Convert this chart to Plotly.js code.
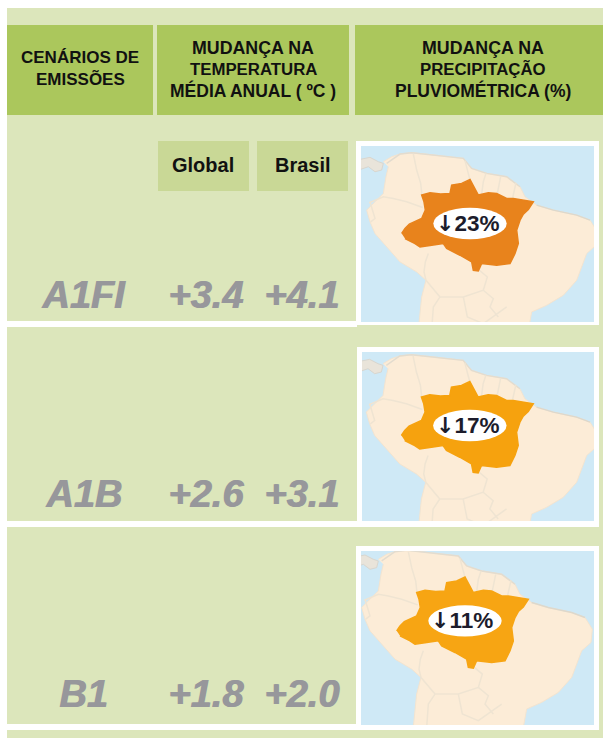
<!DOCTYPE html>
<html><head><meta charset="utf-8">
<script src="https://cdn.plot.ly/plotly-3.0.1.min.js"></script>
<style>html,body{margin:0;padding:0;background:#fff}#c{width:603px;height:738px}</style>
</head><body><div id="c"></div>
<script>
// ---- table content ----
const scenarios = ['A1FI','A1B','B1'];
const tempGlobal = ['+3.4','+2.6','+1.8'];
const tempBrasil = ['+4.1','+3.1','+2.0'];
const rainChange = ['23%','17%','11%'];
const regionColors = ['#e8831c','#f6a20e','#f7a513'];
const headerCol1 = ['CENÁRIOS DE','EMISSÕES'];
const headerCol2 = ['MUDANÇA NA','TEMPERATURA','MÉDIA ANUAL ( ºC )'];
const headerCol3 = ['MUDANÇA NA','PRECIPITAÇÃO','PLUVIOMÉTRICA (%)'];
const subHeaders = ['Global','Brasil'];

// ---- map outlines, in a shared map coordinate system ----
const landX = [100,125,150,185,225,280,340,365,410,470,510,525,560,610,680,720,742,738,710,695,680,640,590,545,535,205,215,228,200,150,110,75,60,50,75,100,108,115];
const landY = [95,80,72,68,72,78,85,115,130,140,170,200,225,240,255,270,305,345,370,410,450,495,525,545,600,600,500,450,425,395,350,310,275,240,215,190,140,110];
const centralX = [20,60,85,100,95,75,55,35,20];
const centralY = [90,82,95,100,120,125,110,118,122];
const regionX = [155,165,178,215,226,222,215,240,272,300,305,335,360,372,385,415,440,470,490,550,535,520,510,500,505,495,480,440,395,385,370,365,330,290,280,245,210,195,185,165];
const regionY = [310,295,282,265,240,215,195,188,192,190,165,160,148,170,195,188,190,205,205,215,238,252,270,300,340,370,400,405,400,422,420,395,375,355,340,345,350,340,335,325];
const borderSets = [
  [[190,200,212,216],[72,120,160,195]],
  [[58,100,130,170,218],[218,200,205,215,232]],
  [[360,352,345],[150,115,92]],
  [[395,400,408],[192,155,130]],
  [[442,446,452],[190,165,140]],
  [[488,492,498],[203,180,158]],
  [[228,222,226,235],[450,425,395,370]],
  [[228,270,340,400,412,388],[450,500,500,480,440,420]],
  [[270,250,245],[500,530,600]],
  [[340,352,400,470],[500,560,580,530]],
  [[400,430,420,445],[480,505,530,560]],
  [[60,75,62],[215,265,275]]
];
const coastX = [110,150,185,225,280,340,365,410,470,510];
const coastY = [100,72,68,72,78,85,115,130,140,170];
const coastEastX = [560,610,680,720];
const coastEastY = [225,240,255,270];

// ---- page geometry (pixels) ----
const pale='#dce6bb', head='#abc75c', sub='#c9d896', grey='#97979b';
const rect=(x0,y0,x1,y1,c)=>({type:'rect',xref:'x',yref:'y',x0,y0,x1,y1,fillcolor:c,line:{width:0},layer:'below'});
const shapes=[
  rect(7,8,603,738,pale),
  rect(7,25,153,115,head), rect(157,25,349,115,head), rect(355,25,603,115,head),
  rect(158,141,249,191,sub), rect(257,141,348,191,sub),
  rect(7,321,357,327,'#fff'), rect(7,521,357,527,'#fff'), rect(7,724,357,730,'#fff')
];
const frames=[[356,141,599,325],[357,347,599,527],[356,546,599,730]];
const images=[[361,146,594,322],[362,352,594,521],[361,551,594,725]];
const windows=[[33,732,48,575],[37,732,60,566],[48,747,70,593]];
const rowY=[295,494,694];
const W=603,H=738;
const layout={width:W,height:H,margin:{l:0,r:0,t:0,b:0},paper_bgcolor:'#fff',plot_bgcolor:'rgba(0,0,0,0)',showlegend:false,hovermode:false,
  xaxis:{range:[0,W],domain:[0,1],visible:false,fixedrange:true},
  yaxis:{range:[H,0],domain:[0,1],visible:false,fixedrange:true},
  shapes,annotations:[]};
const traces=[{type:'scatter',x:[0],y:[0],mode:'none',xaxis:'x',yaxis:'y'}];
const sans='"Liberation Sans",Arial,sans-serif';
const note=(text,x,y,size,color)=>({text,x,y,xref:'x',yref:'y',showarrow:false,xanchor:'center',yanchor:'middle',font:{family:sans,size,color}});
const heavy=(text,x,y)=>{const a=note('<b><i>'+text+'</i></b>',x,y,38,grey);a.font.shadow='1px 0 0 '+grey;return a;};
const headSizes=[17.8,16.8,17.5];

headerCol1.forEach((t,i)=>layout.annotations.push(note('<b>'+t+'</b>',80,[57,79][i],17,'#111')));
headerCol2.forEach((t,i)=>layout.annotations.push(note('<b>'+t+'</b>',253,[48,69,90][i],headSizes[i],'#111')));
headerCol3.forEach((t,i)=>layout.annotations.push(note('<b>'+t+'</b>',482.5,[48,69,90][i],headSizes[i],'#111')));
subHeaders.forEach((t,i)=>layout.annotations.push(note('<b>'+t+'</b>',[203,302.5][i],165,20,'#111')));
scenarios.forEach((s,i)=>{
  layout.annotations.push(heavy(s,83,rowY[i]));
  layout.annotations.push(heavy(tempGlobal[i],205.5,rowY[i]));
  layout.annotations.push(heavy(tempBrasil[i],301,rowY[i]));
  const f=frames[i], m=images[i], w=windows[i], n=i+2;
  shapes.push(rect(f[0],f[1],f[2],f[3],'#fff'));
  shapes.push(rect(m[0],m[1],m[2],m[3],'#cfe9f6'));
  layout['xaxis'+n]={domain:[m[0]/W,m[2]/W],range:[w[0],w[1]],visible:false,fixedrange:true,anchor:'y'+n};
  layout['yaxis'+n]={domain:[1-m[3]/H,1-m[1]/H],range:[w[3],w[2]],visible:false,fixedrange:true,anchor:'x'+n};
  const ax={xaxis:'x'+n,yaxis:'y'+n,type:'scatter',mode:'lines',hoverinfo:'skip'};
  traces.push(Object.assign({},ax,{x:centralX,y:centralY,fill:'toself',fillcolor:'#e9e4da',line:{color:'#d8d6cf',width:1}}));
  traces.push(Object.assign({},ax,{x:landX,y:landY,fill:'toself',fillcolor:'#fcecd7',line:{color:'#f3e4d0',width:1}}));
  traces.push(Object.assign({},ax,{x:coastX,y:coastY,line:{color:'#e3dccf',width:1.5}}));
  traces.push(Object.assign({},ax,{x:coastEastX,y:coastEastY,line:{color:'#ddd8cc',width:1.5}}));
  borderSets.forEach(b=>traces.push(Object.assign({},ax,{x:b[0],y:b[1],line:{color:'#efe4d2',width:1.5}})));
  traces.push(Object.assign({},ax,{x:regionX,y:regionY,fill:'toself',fillcolor:regionColors[i],line:{color:regionColors[i],width:1.5}}));
  shapes.push({type:'circle',xref:'x'+n,yref:'y'+n,x0:250,x1:470,y0:233,y1:327,fillcolor:'#fff',line:{width:0},layer:'above'});
  layout.annotations.push({text:'<b><span style="font-family:DejaVu Sans;font-size:22px">↓</span>'+rainChange[i]+'</b>',x:352,y:280,xref:'x'+n,yref:'y'+n,showarrow:false,font:{family:sans,size:22.5,color:'#1c1c2c'}});
});
Plotly.newPlot('c',traces,layout,{staticPlot:true,displayModeBar:false});
</script></body></html>
